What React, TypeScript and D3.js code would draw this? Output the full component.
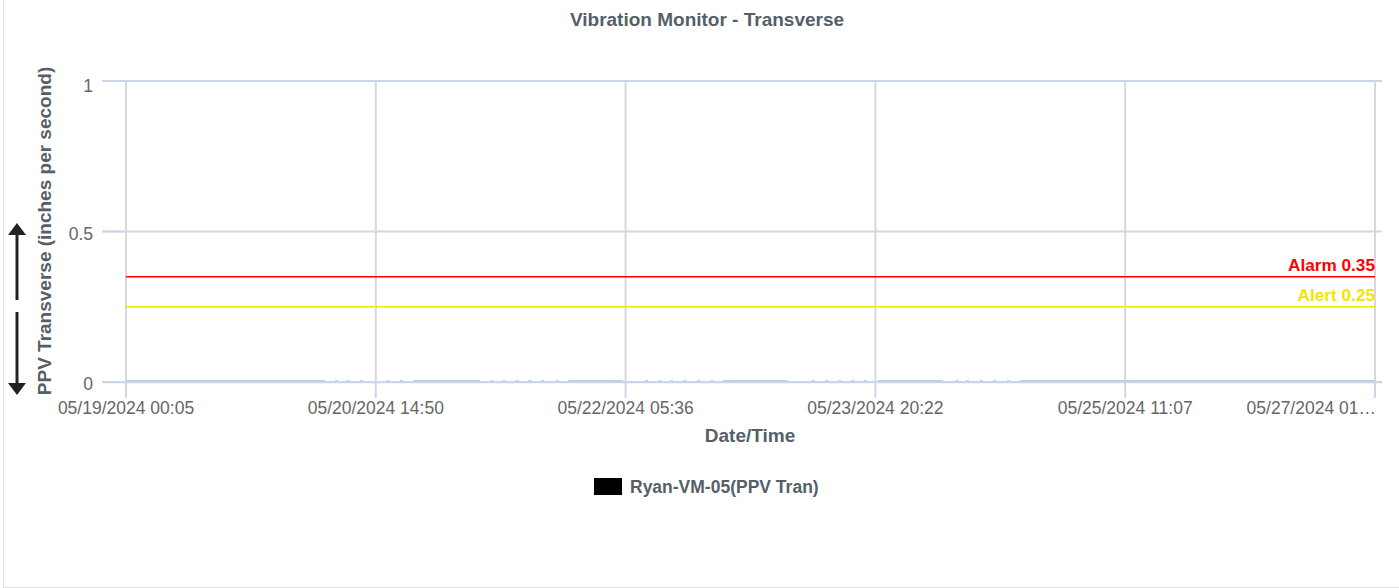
import React from "react";
import * as d3 from "d3";

const W = 1399;
const H = 588;

const title = "Vibration Monitor - Transverse";
const yAxisTitle = "PPV Transverse (inches per second)";
const xAxisTitle = "Date/Time";
const seriesName = "Ryan-VM-05(PPV Tran)";

const xStart = "2024-05-19T00:05";
const xEnd = "2024-05-27T01:53";
const xTickLabels = [
  "05/19/2024 00:05",
  "05/20/2024 14:50",
  "05/22/2024 05:36",
  "05/23/2024 20:22",
  "05/25/2024 11:07",
  "05/27/2024 01…",
];
const yTicks = [0, 0.5, 1];
const yTickLabels = ["0", "0.5", "1"];

const thresholdNames = ["Alarm", "Alert"];
const thresholdValues = [0.35, 0.25];
const thresholdColors = ["#ff0000", "#f2e600"];

// Series: near-zero readings, null = gap in the record
const seriesTimes = [
  "2024-05-19T00:05", "2024-05-19T15:00", "2024-05-20T07:00", null,
  "2024-05-20T08:45", null, "2024-05-20T10:30", null, "2024-05-20T12:40", null,
  "2024-05-20T16:45", null, "2024-05-20T18:50", null,
  "2024-05-20T20:45", "2024-05-21T07:00", null,
  "2024-05-21T08:55", null, "2024-05-21T10:45", null, "2024-05-21T12:45", null,
  "2024-05-21T14:45", null, "2024-05-21T16:45", null, "2024-05-21T19:00", null,
  "2024-05-21T20:40", "2024-05-22T05:10", null,
  "2024-05-22T08:50", null, "2024-05-22T11:00", null, "2024-05-22T12:45", null,
  "2024-05-22T14:45", null, "2024-05-22T16:55", null, "2024-05-22T19:00", null,
  "2024-05-22T20:40", "2024-05-23T06:45", null,
  "2024-05-23T10:40", null, "2024-05-23T12:50", null, "2024-05-23T14:50", null,
  "2024-05-23T16:50", null, "2024-05-23T18:45", null,
  "2024-05-23T20:45", "2024-05-24T06:50", null,
  "2024-05-24T09:00", null, "2024-05-24T10:40", null, "2024-05-24T12:50", null,
  "2024-05-24T14:50", null, "2024-05-24T17:00", null,
  "2024-05-24T18:45", "2024-05-25T12:00", "2024-05-26T12:00", "2024-05-27T01:53",
];
const seriesValue = 0.003;

const FONT = "'Liberation Sans', Arial, Helvetica, sans-serif";

export default function App() {
  const left = 126;
  const right = 1375;
  const top = 81;
  const bottom = 382;

  const parse = (s: string) => new Date(s);
  const t0 = parse(xStart);
  const t1 = parse(xEnd);
  const x = d3.scaleTime().domain([t0, t1]).range([left, right]);
  const y = d3.scaleLinear().domain([0, 1]).range([bottom, top]);

  const tickDates = xTickLabels.map(
    (_, i) => new Date(t0.getTime() + ((t1.getTime() - t0.getTime()) * i) / (xTickLabels.length - 1))
  );

  const pts: ({ t: Date; v: number } | null)[] = seriesTimes.map((s) =>
    s === null ? null : { t: parse(s), v: seriesValue }
  );
  const segments: { t: Date; v: number }[][] = [];
  let cur: { t: Date; v: number }[] = [];
  pts.forEach((p) => {
    if (p === null) {
      if (cur.length) segments.push(cur);
      cur = [];
    } else cur.push(p);
  });
  if (cur.length) segments.push(cur);

  const line = d3
    .line<{ t: Date; v: number }>()
    .x((d) => x(d.t))
    .y((d) => y(d.v));

  const gridColor = "#d8d8d8";
  const axisColor = "#ccd6eb";
  const titleColor = "#555f68";

  return (
    <svg
      width={W}
      height={H}
      style={{ position: "absolute", left: 0, top: 0, fontFamily: FONT }}
    >
      <rect x={0} y={0} width={W} height={H} fill="#ffffff" />
      <line x1={3.5} x2={3.5} y1={0} y2={H} stroke="#e0e0e0" strokeWidth={1} />
      <line x1={3} x2={W} y1={H - 0.5} y2={H - 0.5} stroke="#e0e0e0" strokeWidth={1} />

      <text x={707} y={26} textAnchor="middle" fontSize={19} fontWeight="bold" fill={titleColor}>
        {title}
      </text>

      {/* vertical grid */}
      {tickDates.map((d, i) => (
        <line key={"vg" + i} x1={x(d)} x2={x(d)} y1={top} y2={bottom} stroke={gridColor} strokeWidth={2} />
      ))}
      {/* horizontal grid */}
      {yTicks.map((v, i) => (
        <g key={"hg" + i}>
          <line
            x1={102}
            x2={1382}
            y1={y(v)}
            y2={y(v)}
            stroke={v === 0.5 ? gridColor : axisColor}
            strokeWidth={2}
          />
          <line x1={102} x2={left} y1={y(v)} y2={y(v)} stroke={axisColor} strokeWidth={2} />
          <text
            x={93}
            y={y(v) + (i === yTicks.length - 1 ? 10.5 : 8)}
            textAnchor="end"
            fontSize={17.5}
            fill="#666666"
          >
            {yTickLabels[i]}
          </text>
        </g>
      ))}

      {/* series */}
      {segments.map((seg, i) =>
        seg.length > 1 ? (
          <path key={"s" + i} d={line(seg) || ""} fill="none" stroke="#c3cedb" strokeWidth={2} />
        ) : (
          <line
            key={"s" + i}
            x1={x(seg[0].t) - 1.5}
            x2={x(seg[0].t) + 1.5}
            y1={y(seg[0].v)}
            y2={y(seg[0].v)}
            stroke="#c3cedb"
            strokeWidth={2}
          />
        )
      )}

      {/* x axis line + ticks */}
      <line x1={102} x2={1382} y1={bottom + 0.5} y2={bottom + 0.5} stroke={axisColor} strokeWidth={1.5} />
      {tickDates.map((d, i) => (
        <g key={"xt" + i}>
          <line x1={x(d)} x2={x(d)} y1={bottom} y2={bottom + 16} stroke={axisColor} strokeWidth={2} />
          <text
            x={x(d)}
            y={bottom + 32}
            textAnchor={i === xTickLabels.length - 1 ? "end" : "middle"}
            dx={i === xTickLabels.length - 1 ? 1 : 0}
            fontSize={17.5}
            fill="#666666"
          >
            {xTickLabels[i]}
          </text>
        </g>
      ))}

      {/* thresholds */}
      {thresholdValues.map((v, i) => (
        <g key={"th" + i}>
          <line x1={left} x2={right} y1={y(v)} y2={y(v)} stroke={thresholdColors[i]} strokeWidth={1.5} />
          <text
            x={right}
            y={y(v) - 6}
            textAnchor="end"
            fontSize={17.2}
            fontWeight="bold"
            fill={thresholdColors[i]}
          >
            {thresholdNames[i] + " " + thresholdValues[i]}
          </text>
        </g>
      ))}

      {/* axis titles */}
      <text
        transform={`translate(51, ${231}) rotate(-90)`}
        textAnchor="middle"
        fontSize={19}
        fontWeight="bold"
        fill={titleColor}
      >
        {yAxisTitle}
      </text>
      <text x={750} y={442} textAnchor="middle" fontSize={19} fontWeight="bold" fill={titleColor}>
        {xAxisTitle}
      </text>

      {/* arrows */}
      <g fill="#222222" stroke="#222222">
        <line x1={17} x2={17} y1={232} y2={300} strokeWidth={3} />
        <path d="M8,235 L17,223 L26,235 Z" stroke="none" />
        <line x1={17} x2={17} y1={312} y2={386} strokeWidth={3} />
        <path d="M8,383 L17,395 L26,383 Z" stroke="none" />
      </g>

      {/* legend */}
      <rect x={594} y={478} width={28} height={17} fill="#000000" />
      <text x={630} y={493} fontSize={17.5} fontWeight="bold" fill={titleColor}>
        {seriesName}
      </text>
    </svg>
  );
}
